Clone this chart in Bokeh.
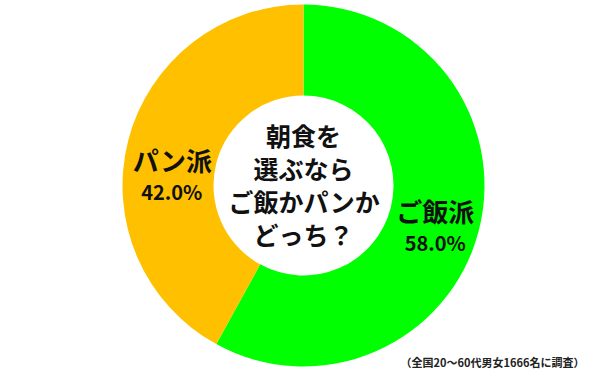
import math
from bokeh.plotting import figure
from bokeh.models import Range1d, ColumnDataSource
from bokeh.core.properties import value
from bokeh.embed import file_html
from bokeh.resources import INLINE

# ---- data ----
categories = ["ご飯派", "パン派"]
shares = [58.0, 42.0]
colors = ["#00FF00", "#FFC000"]
center_lines = ["朝食を", "選ぶなら", "ご飯かパンか", "どっち？"]
footnote = "（全国20～60代男女1666名に調査）"

# ---- layout ----
W, H = 600, 374
cx, cy = 303, H - 185
r_out, r_in = 181, 90
r_label = 136
label_nudge_y = [-7, -24]
FONT = value("Noto Sans CJK JP")

total = sum(shares)
starts, ends, mids = [], [], []
acc = 0.0
for s in shares:
    a0 = math.pi / 2 - 2 * math.pi * acc / total
    acc += s
    a1 = math.pi / 2 - 2 * math.pi * acc / total
    starts.append(a0)
    ends.append(a1)
    mids.append((a0 + a1) / 2)

src = ColumnDataSource(dict(x=[cx] * len(shares), y=[cy] * len(shares),
                            start=starts, end=ends, color=colors))

p = figure(width=W, height=H, output_backend="svg", toolbar_location=None,
           x_range=Range1d(0, W), y_range=Range1d(0, H), min_border=0,
           background_fill_color="white", border_fill_color="white")
p.axis.visible = False
p.grid.visible = False
p.outline_line_color = None

p.annular_wedge(x="x", y="y", inner_radius=r_in, outer_radius=r_out,
                start_angle="start", end_angle="end", direction="clock",
                fill_color="color", line_color=None, source=src)

# slice labels
lx, ly_name, ly_pct, names, pcts = [], [], [], [], []
for i, (c, s) in enumerate(zip(categories, shares)):
    x = cx + r_label * math.cos(mids[i])
    y = cy + r_label * math.sin(mids[i]) + label_nudge_y[i]
    lx.append(x)
    ly_name.append(y + 16)
    ly_pct.append(y - 16)
    names.append(c)
    pcts.append(f"{s:.1f}%")

p.text(x=lx, y=ly_name, text=names, text_font=FONT, text_font_size="26px",
       text_font_style="bold", text_color="#111111", text_align="center",
       text_baseline="middle")
p.text(x=lx, y=ly_pct, text=pcts, text_font=FONT, text_font_size="20px",
       text_font_style="bold", text_color="#111111", text_align="center",
       text_baseline="middle")

# center text
p.text(x=[cx], y=[cy + 1], text=["\n".join(center_lines)], text_font=FONT,
       text_font_size="25px", text_font_style="bold", text_color="#111111",
       text_align="center", text_baseline="middle", text_line_height=0.91)

# footnote
p.text(x=[W - 108], y=[H - 361], text=[footnote], text_font=FONT,
       text_font_size="11px", text_font_style="bold", text_color="#222222",
       text_align="center", text_baseline="middle")

open("out.html", "w").write(file_html(p, INLINE))
